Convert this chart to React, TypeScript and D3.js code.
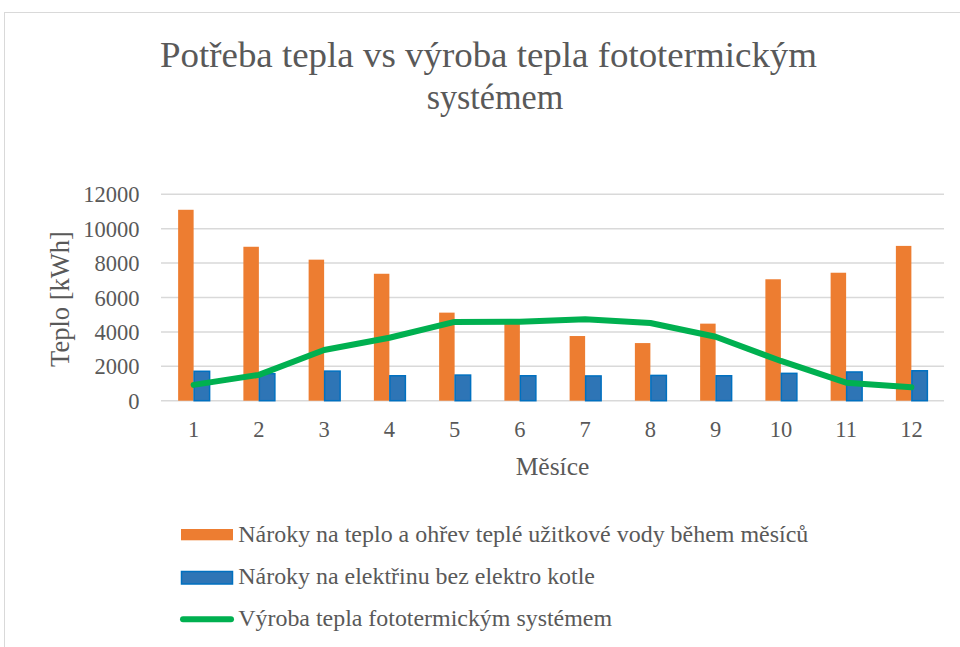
import React from "react";
import * as d3 from "d3";

const months = ["1", "2", "3", "4", "5", "6", "7", "8", "9", "10", "11", "12"];
const heatDemand = [11100, 8950, 8200, 7380, 5120, 4550, 3760, 3350, 4480, 7060, 7440, 9000];
const electricity = [1710, 1570, 1720, 1450, 1490, 1450, 1440, 1470, 1450, 1590, 1670, 1740];
const solarHeat = [920, 1500, 2950, 3660, 4580, 4590, 4730, 4520, 3720, 2310, 1050, 780];
const yTicks = [0, 2000, 4000, 6000, 8000, 10000, 12000];
const seriesNames = [
  "Nároky na teplo a ohřev teplé užitkové vody během měsíců",
  "Nároky na elektřinu bez elektro kotle",
  "Výroba tepla fototermickým systémem",
];

const W = 960;
const H = 647;
const FONT = "'Liberation Serif', 'Times New Roman', serif";
const TEXT = "#595959";

export default function App() {
  const left = 161;
  const right = 944;
  const top = 194.3;
  const bottom = 400.7;

  const x0 = d3
    .scaleBand<string>()
    .domain(months)
    .range([left, right])
    .paddingInner(0.525)
    .paddingOuter(0.2625);
  const x1 = d3
    .scaleBand<string>()
    .domain(["heat", "elec"])
    .range([0, x0.bandwidth()]);
  const y = d3.scaleLinear().domain([0, 12000]).range([bottom, top]);

  const line = d3
    .line<number>()
    .x((_, i) => (x0(months[i]) as number) + x0.bandwidth() / 2)
    .y((d) => y(d));

  const legendX = 238.3;

  return (
    <svg
      width={W}
      height={H}
      style={{ position: "absolute", left: 0, top: 0, background: "#fff" }}
      fontFamily={FONT}
    >
      <rect x={4.5} y={12.5} width={W + 10} height={H + 10} fill="#fff" stroke="#d9d9d9" strokeWidth={1} />

      <text
        x={160}
        y={66.7}
        fontSize={35}
        fill={TEXT}
        textLength={657}
        lengthAdjust="spacingAndGlyphs"
      >
        Potřeba tepla vs výroba tepla fototermickým
      </text>
      <text
        x={426.7}
        y={109}
        fontSize={35}
        fill={TEXT}
        textLength={136.5}
        lengthAdjust="spacingAndGlyphs"
      >
        systémem
      </text>

      {yTicks.map((t) => (
        <g key={t}>
          <line x1={left} x2={right} y1={y(t)} y2={y(t)} stroke="#d9d9d9" strokeWidth={1.5} />
          <text x={139.5} y={y(t) + 8} textAnchor="end" fontSize={22.5} fill={TEXT}>
            {t}
          </text>
        </g>
      ))}

      {months.map((m, i) => {
        const bx = x0(m) as number;
        return (
          <g key={m}>
            <rect
              x={bx + (x1("heat") as number)}
              y={y(heatDemand[i])}
              width={x1.bandwidth()}
              height={y(0) - y(heatDemand[i])}
              fill="#ed7d31"
            />
            <rect
              x={bx + (x1("elec") as number) + 0.5}
              y={y(electricity[i])}
              width={x1.bandwidth()}
              height={y(0) - y(electricity[i])}
              fill="#2e75b6"
              stroke="#0070c0"
              strokeWidth={1.5}
            />
            <text
              x={bx + x0.bandwidth() / 2}
              y={436.7}
              textAnchor="middle"
              fontSize={22.5}
              fill={TEXT}
            >
              {m}
            </text>
          </g>
        );
      })}

      <path
        d={line(solarHeat) as string}
        fill="none"
        stroke="#00b050"
        strokeWidth={6}
        strokeLinejoin="round"
        strokeLinecap="round"
      />

      <text x={552.5} y={475} textAnchor="middle" fontSize={25.5} fill={TEXT}>
        Měsíce
      </text>
      <text
        transform={`translate(69,299) rotate(-90)`}
        textAnchor="middle"
        fontSize={26.5}
        fill={TEXT}
      >
        Teplo [kWh]
      </text>

      <rect x={181} y={529} width={52} height={11.3} fill="#ed7d31" />
      <text x={legendX} y={541.7} fontSize={22.5} fill={TEXT} textLength={570} lengthAdjust="spacingAndGlyphs">
        {seriesNames[0]}
      </text>
      <rect x={181.5} y={571.5} width={51} height={12.5} fill="#2e75b6" stroke="#0070c0" strokeWidth={1.5} />
      <text x={legendX} y={584.3} fontSize={22.5} fill={TEXT} textLength={356.7} lengthAdjust="spacingAndGlyphs">
        {seriesNames[1]}
      </text>
      <line x1={183} x2={231} y1={619.3} y2={619.3} stroke="#00b050" strokeWidth={6} strokeLinecap="round" />
      <text x={legendX} y={626} fontSize={22.5} fill={TEXT} textLength={373.7} lengthAdjust="spacingAndGlyphs">
        {seriesNames[2]}
      </text>
    </svg>
  );
}
